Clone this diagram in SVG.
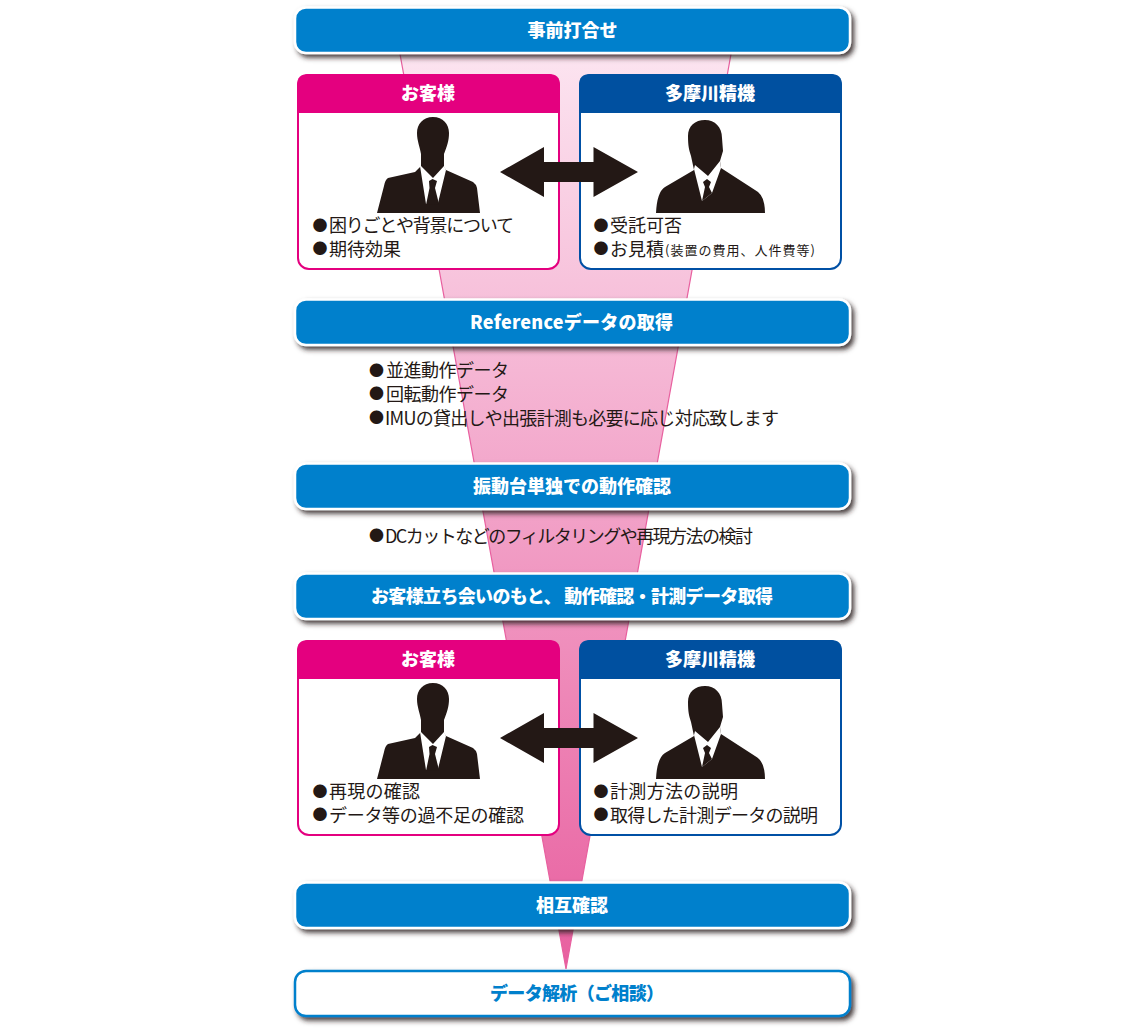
<svg xmlns="http://www.w3.org/2000/svg" xmlns:xlink="http://www.w3.org/1999/xlink" width="1130" height="1028" viewBox="0 0 1130 1028">
<style>
text{font-family:"Noto Sans CJK JP","Noto Sans",sans-serif}
.bar{fill:#0080cc;stroke:#fff;stroke-width:2.5}
.lbl{font-size:18px;font-weight:900;fill:#fff;text-anchor:middle}
.t{font-size:18px;fill:#231815}
.d{fill:#231815}
.k{fill:#231815}
.w{fill:#fff}
</style>
<defs>
<linearGradient id="g" gradientUnits="userSpaceOnUse" x1="0" y1="54" x2="0" y2="969"><stop offset="0" stop-color="#fce4f0"/><stop offset="1" stop-color="#e85f9f"/></linearGradient>
<filter id="s" x="-5%" y="-30%" width="110%" height="170%"><feDropShadow dx="3" dy="3.500" stdDeviation="2.500" flood-color="#2c2424" flood-opacity=".85"/></filter>
<g id="manA">
<path class="k" d="M433 117C423 117 417 124 417 133C417 141 420 147 421 154L421 166L415 172L388 178Q385 180 384 186L377 213H480L477 188Q476 184 473 182L446 170L444 167L444 154C447 146 449 141 449 133C449 124 443 117 433 117Z"/>
<path class="w" d="M420 166L426 204L438 203L446 170L444 166L433 178L421 166Z"/>
<path class="k" d="M429 181L432.500 179L437 181L435 188L439 204L426 205L429.500 188Z"/>
</g>
<g id="manB">
<path class="k" d="M705 120C695 120 688 126 688 136C688 146 689 150 691 156L694 170L665 187Q657 192 656 213H765Q765 195 755 190L721 168L720 161L723 151L722 138C722 127 715 120 705 120Z"/>
<path class="w" d="M694 169L702 201L712 193L721 168L720 161L708 176L695 165Z"/>
<path class="k" d="M703 182L707 179L711 182L709 187L712 193L702 201L705 187Z"/>
</g>
<path id="arrow" class="k" d="M500 172L544 147V162H593.500V147L638 172L593.500 197V182H544V197Z"/>
</defs>
<g id="funnel"><polygon points="400,54 731,54 566,969" fill="url(#g)" stroke="#e8609f" stroke-width="1.200"/></g>
<g id="connectors"></g>

<g id="n1"><rect class="bar" x="295" y="7.500" width="555" height="45.500" rx="11" filter="url(#s)"/><text class="lbl" x="572.500" y="37">事前打合せ</text></g>

<g id="c1"><rect x="298" y="75" width="261" height="194" rx="11" fill="#fff" stroke="#e4007f" stroke-width="2"/><path d="M297 113V85Q297 74 308 74H549Q560 74 560 85V113Z" fill="#e4007f"/><text class="lbl" x="428" y="100">お客様</text><use xlink:href="#manA"/><text class="t d" x="312.500" y="231" style="font-size:15px">●</text><text class="t" x="329" y="232" textLength="185">困りごとや背景について</text><text class="t d" x="312.500" y="254" style="font-size:15px">●</text><text class="t" x="329" y="256" textLength="72">期待効果</text></g>
<g id="c2"><rect x="580" y="75" width="261" height="194" rx="11" fill="#fff" stroke="#0050a5" stroke-width="2"/><path d="M579 113V85Q579 74 590 74H831Q842 74 842 85V113Z" fill="#0050a0"/><text class="lbl" x="710" y="100">多摩川精機</text><use xlink:href="#manB"/><text class="t d" x="593.500" y="231" style="font-size:15px">●</text><text class="t" x="610" y="232" textLength="72">受託可否</text><text class="t d" x="593.500" y="254" style="font-size:15px">●</text><text class="t" x="610" y="256" textLength="54">お見積</text><text class="t" x="665" y="255" style="font-size:13px" textLength="150">(装置の費用、人件費等)</text></g>
<use id="a1" xlink:href="#arrow"/>

<g id="n2"><rect class="bar" x="295" y="299.500" width="555" height="45.500" rx="11" filter="url(#s)"/><text class="lbl" x="571.500" y="329" textLength="203">Referenceデータの取得</text></g>
<g id="t2"><text class="t d" x="369" y="376" style="font-size:15px">●</text><text class="t" x="386" y="377" textLength="123">並進動作データ</text><text class="t d" x="369" y="399" style="font-size:15px">●</text><text class="t" x="386" y="401" textLength="123">回転動作データ</text><text class="t d" x="369" y="423" style="font-size:15px">●</text><text class="t" x="385" y="425" textLength="394">IMUの貸出しや出張計測も必要に応じ対応致します</text></g>

<g id="n3"><rect class="bar" x="295" y="463.500" width="555" height="45.500" rx="11" filter="url(#s)"/><text class="lbl" x="572" y="493" textLength="198">振動台単独での動作確認</text></g>
<g id="t3"><text class="t d" x="369" y="541" style="font-size:15px">●</text><text class="t" x="385" y="543" textLength="368">DCカットなどのフィルタリングや再現方法の検討</text></g>

<g id="n4"><rect class="bar" x="295" y="573.500" width="555" height="45.500" rx="11" filter="url(#s)"/><text class="lbl" x="572" y="603" textLength="402">お客様立ち会いのもと、 動作確認・計測データ取得</text></g>

<g id="c3"><rect x="298" y="641" width="261" height="194" rx="11" fill="#fff" stroke="#e4007f" stroke-width="2"/><path d="M297 679V651Q297 640 308 640H549Q560 640 560 651V679Z" fill="#e4007f"/><text class="lbl" x="428" y="666">お客様</text><use xlink:href="#manA" y="566"/><text class="t d" x="312.500" y="797" style="font-size:15px">●</text><text class="t" x="329" y="798" textLength="91">再現の確認</text><text class="t d" x="312.500" y="820" style="font-size:15px">●</text><text class="t" x="329" y="822" textLength="195">データ等の過不足の確認</text></g>
<g id="c4"><rect x="580" y="641" width="261" height="194" rx="11" fill="#fff" stroke="#0050a5" stroke-width="2"/><path d="M579 679V651Q579 640 590 640H831Q842 640 842 651V679Z" fill="#0050a0"/><text class="lbl" x="710" y="666">多摩川精機</text><use xlink:href="#manB" y="566"/><text class="t d" x="593.500" y="797" style="font-size:15px">●</text><text class="t" x="610" y="798" textLength="128">計測方法の説明</text><text class="t d" x="593.500" y="820" style="font-size:15px">●</text><text class="t" x="610" y="822" textLength="208">取得した計測データの説明</text></g>
<use id="a2" xlink:href="#arrow" y="566"/>

<g id="n5"><rect class="bar" x="295" y="882.500" width="555" height="45.500" rx="11" filter="url(#s)"/><text class="lbl" x="572" y="912">相互確認</text></g>
<g id="n6"><rect x="295" y="971" width="555" height="45" rx="11" fill="#fff" stroke="#0080cc" stroke-width="2.500" filter="url(#s)"/><text class="lbl" style="fill:#0080cc;text-anchor:start" x="490" y="1000" textLength="174">データ解析（ご相談）</text></g>
</svg>
